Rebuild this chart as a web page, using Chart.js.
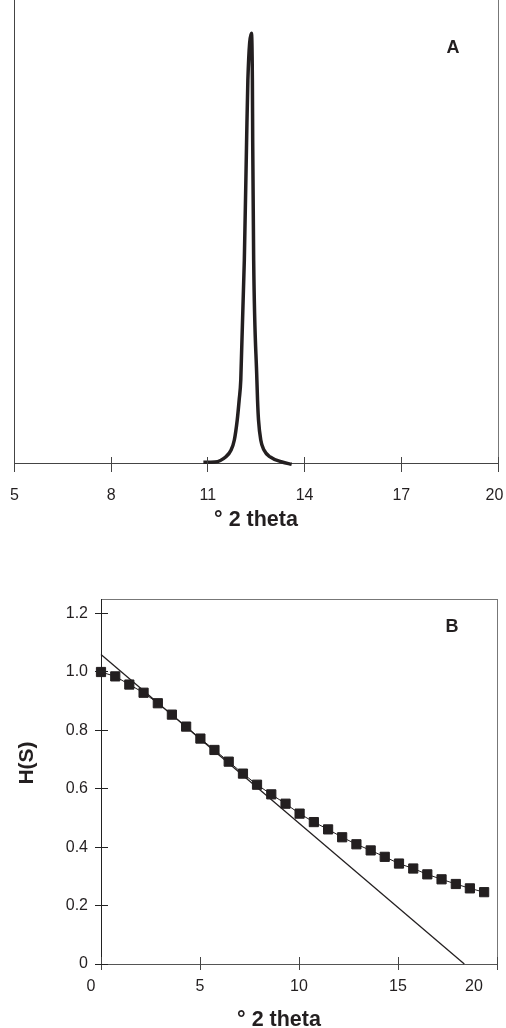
<!DOCTYPE html>
<html><head><meta charset="utf-8">
<script src="https://cdn.jsdelivr.net/npm/chart.js@4/dist/chart.umd.min.js"></script>
<style>
html,body{margin:0;padding:0;background:#fff;width:506px;height:1028px;overflow:hidden}
canvas{position:absolute;left:0}
#cA{top:0}
#cB{top:560px}
</style></head><body>
<canvas id="cA" width="506" height="540"></canvas>
<canvas id="cB" width="506" height="468"></canvas>
<script>
// ---------- Panel A : diffraction peak ----------
const peakX = [10.86, 11.22, 11.55, 11.72, 11.82, 11.91, 11.97, 12.02, 12.13, 12.20, 12.24, 12.35,
               12.38, 12.39, 12.42, 12.52, 12.54, 12.57, 12.64, 12.74, 12.93, 13.30, 13.60];
const peakY = [0.15, 0.22, 1.30, 2.81, 4.97, 9.29, 13.61, 17.93, 43.8, 69.3, 82.7, 92.8,
               82.7, 69.3, 43.8, 17.9, 13.6, 9.29, 4.97, 2.81, 1.30, 0.22, -0.28];
const topXTicks = [5, 8, 11, 14, 17, 20];

// ---------- Panel B : H(S) ----------
const hsX = [0, 0.72, 1.43, 2.15, 2.87, 3.58, 4.30, 5.02, 5.73, 6.45, 7.17, 7.88, 8.60, 9.32,
             10.03, 10.75, 11.47, 12.18, 12.90, 13.62, 14.33, 15.05, 15.77, 16.48, 17.20, 17.92, 18.63, 19.35];
const hsY = [1.00, 0.985, 0.957, 0.929, 0.893, 0.854, 0.813, 0.772, 0.733, 0.693, 0.652, 0.614, 0.581, 0.549,
             0.515, 0.486, 0.461, 0.434, 0.410, 0.389, 0.367, 0.344, 0.327, 0.307, 0.290, 0.274, 0.259, 0.246];
const fitX = [0, 18.35];
const fitY = [1.06, 0];
const bottomXTicks = [0, 5, 10, 15, 20];
const bottomYTicks = [0, 0.2, 0.4, 0.6, 0.8, 1.0, 1.2];

const INK = '#231f20';
const FONT = "'Liberation Sans', Arial, Helvetica, sans-serif";
const pts = (xs, ys) => xs.map((x, i) => ({x: x, y: ys[i]}));
const setTicks = vals => (s => { s.ticks = vals.map(v => ({value: v})); });

const crossTicks = {
  id: 'crossTicks',
  afterDraw(chart, args, opts) {
    const ctx = chart.ctx;
    ctx.save();
    ctx.lineWidth = 1;
    (opts.axes || []).forEach(a => {
      const s = chart.scales[a.id];
      ctx.strokeStyle = a.color;
      s.ticks.forEach(t => {
        const p = Math.round(s.getPixelForValue(t.value) - 0.5) + 0.5;
        ctx.beginPath();
        if (s.isHorizontal()) {
          const y0 = chart.chartArea.bottom;
          ctx.moveTo(p, y0 - a.inner); ctx.lineTo(p, y0 + a.outer);
        } else {
          const x0 = chart.chartArea.left;
          ctx.moveTo(x0 - a.outer, p); ctx.lineTo(x0 + a.inner, p);
        }
        ctx.stroke();
      });
    });
    ctx.restore();
  }
};

const texts = {
  id: 'texts',
  afterDraw(chart, args, opts) {
    const ctx = chart.ctx;
    (opts.items || []).forEach(it => {
      ctx.save();
      ctx.font = it.font; ctx.fillStyle = INK;
      ctx.textAlign = 'center'; ctx.textBaseline = it.baseline || 'alphabetic';
      ctx.translate(it.x, it.y);
      if (it.rotate) ctx.rotate(it.rotate);
      ctx.fillText(it.text, 0, 0);
      ctx.restore();
    });
    const sl = opts.scaleLabels;
    if (sl) {
      const s = chart.scales[sl.scale];
      ctx.save();
      ctx.font = sl.font; ctx.fillStyle = INK;
      ctx.textAlign = 'center'; ctx.textBaseline = 'middle';
      sl.values.forEach((v, i) => ctx.fillText(String(v), s.getPixelForValue(v) + (sl.offsets[i] || 0), sl.y));
      ctx.restore();
    }
  }
};

const noGrid = {display: false, drawTicks: false};

// ---------- Chart A ----------
new Chart(document.getElementById('cA'), {
  type: 'scatter',
  data: {datasets: [{
    data: pts(peakX, peakY), showLine: true, borderColor: INK, borderWidth: 3.5,
    pointRadius: 0, cubicInterpolationMode: 'monotone', clip: false
  }]},
  options: {
    responsive: false, animation: false, devicePixelRatio: 1,
    layout: {padding: 0},
    plugins: {
      legend: {display: false}, tooltip: {enabled: false},
      crossTicks: {axes: [{id: 'x', inner: 6, outer: 9, color: '#444'}]},
      texts: {
        items: [
          {text: 'A', x: 453, y: 48, font: 'bold 18px ' + FONT, baseline: 'middle'},
          {text: '\u00B0 2 theta', x: 256, y: 526, font: 'bold 21.5px ' + FONT}
        ],
        scaleLabels: {scale: 'x', values: topXTicks, offsets: [0, 0, 0, 0, 0, -3.5], y: 495.3,
                      font: '16px ' + FONT}
      }
    },
    scales: {
      x: {type: 'linear', min: 5, max: 20, afterBuildTicks: setTicks(topXTicks),
          afterFit: s => { s.height = 77; },
          grid: noGrid, border: {display: true, color: '#444', width: 1},
          ticks: {display: false}},
      y: {type: 'linear', min: 0, max: 100, afterFit: s => { s.width = 14.5; },
          grid: noGrid, border: {display: true, color: '#444', width: 1},
          ticks: {display: false}},
      y2: {type: 'linear', position: 'right', min: 0, max: 100, afterFit: s => { s.width = 8; },
          grid: noGrid, border: {display: true, color: '#777', width: 1},
          ticks: {display: false}}
    }
  },
  plugins: [crossTicks, texts]
});

// ---------- Chart B ----------
new Chart(document.getElementById('cB'), {
  type: 'scatter',
  data: {datasets: [
    {data: pts(fitX, fitY), showLine: true, borderColor: INK, borderWidth: 1.3, pointRadius: 0, clip: false},
    {data: pts(hsX, hsY), showLine: true, borderColor: INK, borderWidth: 1,
     pointStyle: 'rect', pointRadius: 6.5, pointBorderWidth: 1,
     pointBackgroundColor: INK, pointBorderColor: INK, clip: false}
  ]},
  options: {
    responsive: false, animation: false, devicePixelRatio: 1,
    layout: {padding: {top: 39, left: 0, right: 0, bottom: 0}},
    plugins: {
      legend: {display: false}, tooltip: {enabled: false},
      crossTicks: {axes: [{id: 'x', inner: 7, outer: 6, color: '#444'},
                          {id: 'y', inner: 7, outer: 6, color: '#222'}]},
      texts: {
        items: [
          {text: 'B', x: 452, y: 67, font: 'bold 18px ' + FONT, baseline: 'middle'},
          {text: 'H(S)', x: 27.5, y: 203, font: 'bold 21px ' + FONT, baseline: 'middle', rotate: -Math.PI / 2},
          {text: '\u00B0 2 theta', x: 279, y: 466, font: 'bold 21.5px ' + FONT}
        ],
        scaleLabels: {scale: 'x', values: bottomXTicks, offsets: [-10, 0, 0, 0, -23], y: 426.7,
                      font: '16px ' + FONT}
      }
    },
    scales: {
      x: {type: 'linear', min: 0, max: 20, afterBuildTicks: setTicks(bottomXTicks),
          afterFit: s => { s.height = 64; },
          grid: noGrid, border: {display: true, color: '#555', width: 1},
          ticks: {display: false}},
      x2: {type: 'linear', position: 'top', min: 0, max: 20, afterFit: s => { s.height = 0; },
          grid: noGrid, border: {display: true, color: '#777', width: 1},
          ticks: {display: false}},
      y: {type: 'linear', min: 0, max: 1.25, afterBuildTicks: setTicks(bottomYTicks),
          afterFit: s => { s.width = 101; },
          grid: noGrid, border: {display: true, color: '#222', width: 1},
          ticks: {padding: 13, color: INK, font: {family: FONT, size: 16},
                  callback: v => (v === 0 ? '0' : v.toFixed(1))}},
      y2: {type: 'linear', position: 'right', min: 0, max: 1.25, afterFit: s => { s.width = 9; },
          grid: noGrid, border: {display: true, color: '#777', width: 1},
          ticks: {display: false}}
    }
  },
  plugins: [crossTicks, texts]
});
</script>
</body></html>
